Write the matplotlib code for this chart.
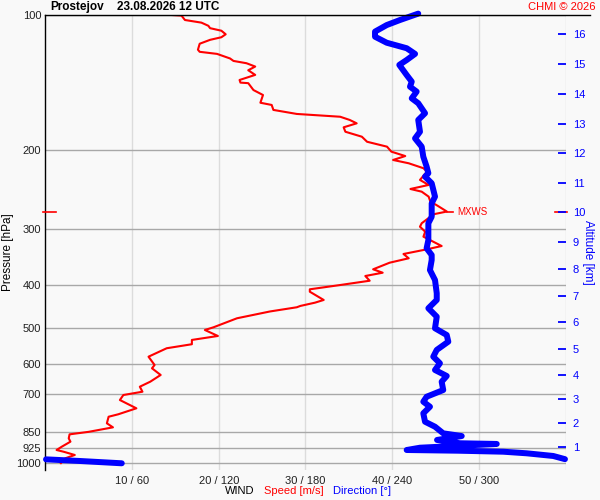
"""Wind profile (speed + direction) from the Prostejov sounding, CHMI style."""
import numpy as np
import matplotlib
matplotlib.use("Agg")
import matplotlib.pyplot as plt
from matplotlib.ticker import NullLocator, FixedLocator, FixedFormatter
from matplotlib.transforms import blended_transform_factory
from matplotlib.lines import Line2D

plt.rcParams["font.family"] = ["Liberation Sans", "DejaVu Sans"]

# wind speed profile: pressure [hPa] / speed [m/s]
SPEED_P = [100.0, 100.3, 102.6, 104.0, 105.7, 107.0, 108.4, 110.4, 112.1, 113.6,
           115.9, 119.5, 120.8, 122.1, 125.0, 126.6, 128.1, 130.3, 132.8, 136.0,
           139.6, 141.5, 141.9, 147.0, 150.8, 156.9, 158.7, 162.8, 166.2, 168.6,
           171.4, 174.4, 178.0, 182.1, 186.8, 191.7, 196.6, 201.7, 206.3, 210.5,
           214.1, 219.6, 223.5, 233.2, 239.3, 244.3, 247.7, 254.1, 260.8, 265.3,
           274.3, 277.8, 281.7, 291.3, 296.5, 304.2, 312.1, 327.4, 333.0, 341.1,
           348.7, 356.7, 369.0, 375.5, 381.9, 391.3, 400.0, 408.9, 414.0, 431.9,
           437.9, 445.4, 448.4, 458.2, 474.5, 496.9, 503.9, 519.6, 530.3, 542.1,
           553.4, 577.9, 603.1, 613.4, 634.8, 657.1, 674.2, 691.8, 703.6, 721.9,
           753.3, 776.9, 786.6, 813.6, 830.6, 850.0, 861.0, 878.9, 894.0, 917.4,
           933.1, 941.3, 957.3, 973.7, 998.0]
SPEED = [14.6, 15.7, 16.1, 18.0, 18.8, 19.0, 20.3, 20.8, 20.3, 19.0,
         17.8, 17.6, 17.8, 19.8, 21.3, 21.7, 23.2, 24.2, 23.4, 24.2,
         22.4, 22.5, 23.4, 24.0, 25.1, 24.8, 26.1, 26.3, 29.0, 34.0,
         35.1, 35.9, 34.4, 34.6, 36.5, 37.1, 39.4, 39.9, 41.5, 40.1,
         41.9, 43.6, 44.0, 43.2, 44.2, 42.1, 43.4, 44.2, 44.4, 45.1,
         46.3, 44.9, 44.4, 43.4, 43.2, 43.8, 43.6, 45.7, 44.0, 41.3,
         41.9, 39.7, 37.8, 38.9, 36.9, 37.4, 34.0, 30.5, 30.5, 32.1,
         31.1, 29.4, 29.0, 25.9, 22.1, 19.4, 18.4, 19.9, 16.9, 16.9,
         14.0, 11.9, 12.6, 12.3, 13.3, 12.1, 10.9, 11.2, 9.0, 8.6,
         10.5, 8.4, 7.3, 7.1, 7.8, 5.0, 2.8, 2.7, 2.9, 1.9,
         1.3, 2.1, 3.4, 2.3, 1.8]

# wind direction profile: pressure [hPa] / direction [deg]
DIR_P = [99.3, 102.6, 105.3, 108.9, 111.8, 115.3, 118.6, 122.1, 126.0, 129.2,
         136.1, 140.8, 144.5, 148.2, 153.4, 157.3, 165.6, 171.4, 182.1, 188.4,
         196.6, 207.0, 217.8, 225.3, 229.3, 237.2, 254.1, 263.0, 281.7, 291.3,
         317.5, 331.3, 342.9, 351.8, 370.4, 389.9, 417.3, 431.9, 450.7, 470.6,
         499.5, 517.0, 535.0, 558.2, 577.9, 597.8, 618.8, 638.1, 657.1, 685.8,
         709.8, 728.2, 747.2, 772.9, 807.0, 828.0, 856.6, 868.6, 886.2, 901.4,
         904.6, 922.2, 933.1, 936.5, 941.3, 949.0, 962.2, 978.0, 979.0, 987.3,
         999.0]
DIR = [258.0, 245.4, 236.2, 228.1, 228.1, 236.2, 250.0, 255.8, 250.0, 244.9,
       250.0, 253.5, 252.3, 256.9, 253.5, 258.0, 262.7, 258.0, 259.2, 255.8,
       260.4, 261.5, 263.8, 265.0, 262.7, 267.3, 269.6, 267.3, 267.3, 265.0,
       265.0, 263.8, 267.3, 267.3, 266.1, 269.6, 270.8, 270.8, 265.0, 270.8,
       269.6, 277.7, 278.8, 270.8, 268.4, 273.0, 269.6, 277.7, 274.2, 275.3,
       263.8, 261.5, 266.1, 261.5, 262.7, 269.6, 275.3, 288.1, 271.0, 286.9,
       312.3, 259.2, 250.0, 285.7, 316.8, 333.0, 351.4, 359.5, 0.5, 24.0,
       52.9]

MXWS_P = 274.3
MXWS_SPEED = 46.3

P_TICKS = [100, 200, 300, 400, 500, 600, 700, 850, 925, 1000]
SPEED_TICKS = [10, 20, 30, 40, 50, 60]
X_LABELS = ["10 / 60", "20 / 120", "30 / 180", "40 / 240", "50 / 300", ""]

ALT_KM = list(range(1, 17))
ALT_P = [917.4, 811.2, 718.2, 633.8, 555.4, 484.3, 422.5, 368.4,
         320.7, 275.4, 236.9, 203.4, 175.0, 150.0, 128.8, 110.2]

BG = "#f9f9f9"
RED = "#ff0000"
BLUE = "#0000ff"
P_BOTTOM, P_TOP = 1034, 100


def main():
    fig = plt.figure(figsize=(6, 5), dpi=100, facecolor=BG)
    ax = fig.add_axes([0.0755, 0.06, 0.8673, 0.91], facecolor=BG)
    ax.set_yscale("log")
    ax.set_ylim(P_BOTTOM, P_TOP)
    ax.set_xlim(0, 60)

    # direction profile gets its own 0..360 x axis (y is shared with ax)
    axd = ax.twiny()
    axd.set_xlim(0, 360)
    axd.set_axis_off()

    # altitude axis on the right
    axa = ax.twinx()
    axa.set_yscale("log")
    axa.set_ylim(P_BOTTOM, P_TOP)
    axa.yaxis.set_major_locator(FixedLocator(ALT_P))
    axa.yaxis.set_major_formatter(FixedFormatter([str(k) for k in ALT_KM]))
    axa.yaxis.set_minor_locator(NullLocator())
    axa.tick_params(axis="y", direction="in", length=6, width=1.3, colors=BLUE,
                    labelsize=8, pad=5)
    for s in axa.spines.values():
        s.set_visible(False)
    axa.set_ylabel("Altitude [km]", color=BLUE, fontsize=8.5, rotation=270,
                   va="center", ha="center")
    axa.yaxis.set_label_coords(1.043, 0.479)

    # pressure / wind axes
    ax.yaxis.set_major_locator(FixedLocator(P_TICKS))
    ax.yaxis.set_major_formatter(FixedFormatter([str(p) for p in P_TICKS]))
    ax.yaxis.set_minor_locator(NullLocator())
    ax.set_xticks(SPEED_TICKS)
    ax.set_xticklabels(X_LABELS)
    ax.tick_params(axis="both", length=0, labelsize=8, colors="#202020")
    ax.tick_params(axis="y", pad=3)
    ax.tick_params(axis="x", pad=4)
    ax.grid(axis="y", color="#a8a8a8", lw=1)
    ax.grid(axis="x", color="#dcdcdc", lw=1)
    ax.set_axisbelow(True)
    for s in ("bottom", "right", "top"):
        ax.spines[s].set_visible(False)
    ax.spines["left"].set_color("black")
    ax.spines["left"].set_linewidth(1)
    ax.spines["left"].set_zorder(5)
    ax.set_ylabel("Pressure [hPa]", fontsize=8.5, color="black",
                  va="center", ha="center")
    ax.yaxis.set_label_coords(-0.072, 0.479)

    # speed profile
    ax.plot(SPEED, SPEED_P, color=RED, lw=1.5, zorder=3)

    # MXWS marker
    bt = blended_transform_factory(ax.transAxes, ax.transData)
    ax.plot([-0.005, 0.0206], [MXWS_P, MXWS_P], color=RED, lw=1.2,
            transform=bt, clip_on=False, zorder=6)
    ax.plot([0.9797, 1.002], [MXWS_P, MXWS_P], color=RED, lw=1.2,
            transform=bt, clip_on=False, zorder=6)
    ax.plot([MXWS_SPEED, MXWS_SPEED + 0.75], [MXWS_P, MXWS_P], color=RED, lw=1.2)
    ax.text(MXWS_SPEED + 1.2, MXWS_P, "MXWS", color=RED, fontsize=7,
            va="center", ha="left")

    # direction, broken at the 360/0 wrap
    d = np.array(DIR, dtype=float)
    p = np.array(DIR_P, dtype=float)
    cut = np.where(np.abs(np.diff(d)) > 180)[0] + 1
    d = np.insert(d, cut, np.nan)
    p = np.insert(p, cut, np.nan)
    axd.plot(d, p, color=BLUE, lw=4.3, solid_capstyle="round",
             solid_joinstyle="round", clip_on=False, zorder=4)

    # top border runs past the right axis
    fig.add_artist(Line2D([0.0755, 0.983], [0.97, 0.97], color="black", lw=1))

    fig.text(50 / 600, 1 - 7 / 500, "Prostejov", fontsize=8.5,
             fontweight="bold", va="center", ha="left")
    fig.text(117 / 600, 1 - 7 / 500, "23.08.2026 12 UTC", fontsize=8.5,
             fontweight="bold", va="center", ha="left")
    fig.text(596 / 600, 1 - 7 / 500, "CHMI © 2026", fontsize=8, color=RED,
             va="center", ha="right")

    fig.text(225 / 600, 1 - 491 / 500, "WIND", fontsize=8, va="center")
    fig.text(264 / 600, 1 - 491 / 500, "Speed [m/s]", fontsize=8, color=RED,
             va="center")
    fig.text(333 / 600, 1 - 491 / 500, "Direction [°]", fontsize=8,
             color=BLUE, va="center")

    fig.savefig("out.png", dpi=100, facecolor=BG)
    plt.close(fig)


if __name__ == "__main__":
    main()
